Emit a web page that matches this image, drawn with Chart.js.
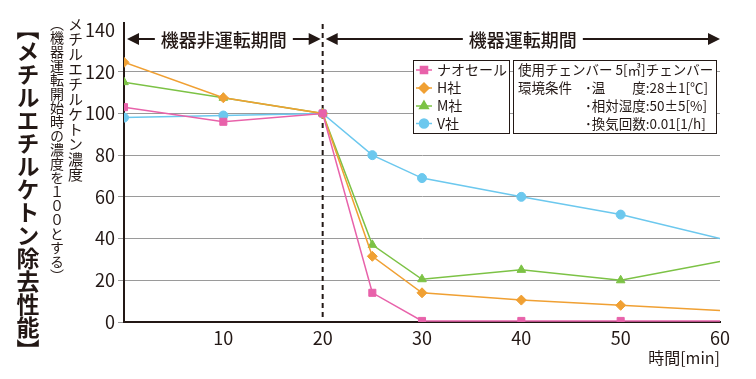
<!DOCTYPE html>
<html lang="ja">
<head>
<meta charset="utf-8">
<script src="https://cdn.jsdelivr.net/npm/chart.js@4/dist/chart.umd.min.js"></script>
<style>
  body { margin: 0; background: #fff; }
  #wrap { position: relative; width: 756px; height: 379px; font-family: "Noto Sans CJK JP", sans-serif; color: #231815; }
  #wrap canvas { position: absolute; left: 0; top: 0; }
  .vt { position: absolute; writing-mode: vertical-rl; white-space: nowrap; line-height: 1; }
  #title { left: 16px; top: 17px; font-size: 23px; font-weight: bold; }
  #ylab1 { left: 68px; top: 17px; font-size: 15px; }
  #ylab2 { left: 50px; top: 17px; font-size: 14px; }
</style>
</head>
<body>
<div id="wrap">
  <canvas id="chart" width="756" height="379"></canvas>
  <div class="vt" id="title">【メチルエチルケトン除去性能】</div>
  <div class="vt" id="ylab1">メチルエチルケトン濃度</div>
  <div class="vt" id="ylab2">（機器運転開始時の濃度を１００とする）</div>
</div>
<script>
// elapsed time [min]
const times = [0, 10, 20, 25, 30, 40, 50, 60];

// concentration, 100 = value at start of operation
const naoseal  = [103, 96, 100, 14, 0.5, 0.5, 0.5, 0.5];
const hCompany = [124.5, 107.5, 100, 31.5, 14, 10.5, 8, 5.5];
const mCompany = [115, 107.5, 100, 37, 20.5, 25, 20, 29];
const vCompany = [98, 99, 100, 80, 69, 60, 51.5, 40];

const seriesNames = ["ナオセール", "H社", "M社", "V社"];
const periodLabels = ["機器非運転期間", "機器運転期間"];
const switchTime = 20;
const conditionLines = [
    ["使用チェンバー 5[㎥]チェンバー", ""],
    ["環境条件", "･温　　度:28±1[℃]"],
    ["", "･相対湿度:50±5[%]"],
    ["", "･換気回数:0.01[1/h]"]
];

const INK = "#231815";
const FONT = "'Noto Sans CJK JP', sans-serif";

function toPoints(values) {
    return values.map((v, i) => ({ x: times[i], y: v }));
}

// no marker on the last point of each line
const radii = (r) => times.map((t, i) => i === times.length - 1 ? 0 : r);

function series(label, values, color, style, r) {
    return {
        label: label,
        data: toPoints(values),
        borderColor: color,
        backgroundColor: color,
        borderWidth: 1.5,
        pointStyle: style,
        pointRadius: radii(r),
        pointHoverRadius: radii(r),
        pointBorderWidth: 1,
        tension: 0
    };
}

function arrowHead(ctx, x, y, dir) {
    ctx.beginPath();
    ctx.moveTo(x, y);
    ctx.lineTo(x - dir * 12, y - 6);
    ctx.lineTo(x - dir * 12, y + 6);
    ctx.closePath();
    ctx.fill();
}

function periodArrow(ctx, x0, x1, y, text) {
    ctx.font = "500 18px " + FONT;
    const w = ctx.measureText(text).width;
    const cx = (x0 + x1) / 2;
    ctx.fillText(text, cx, y + 1);
    ctx.beginPath();
    ctx.moveTo(x0 + 10, y);
    ctx.lineTo(cx - w / 2 - 6, y);
    ctx.moveTo(cx + w / 2 + 6, y);
    ctx.lineTo(x1 - 10, y);
    ctx.stroke();
    arrowHead(ctx, x0, y, -1);
    arrowHead(ctx, x1, y, 1);
}

const periodPlugin = {
    id: "periods",
    beforeDatasetsDraw(chart) {
        const { ctx, chartArea, scales } = chart;
        const xs = scales.x.getPixelForValue(switchTime);
        ctx.save();
        ctx.strokeStyle = INK;
        ctx.lineWidth = 2;
        ctx.setLineDash([5, 4]);
        ctx.beginPath();
        ctx.moveTo(xs, 24);
        ctx.lineTo(xs, chartArea.bottom);
        ctx.stroke();
        ctx.restore();
    },
    afterDraw(chart) {
        const { ctx, chartArea, scales } = chart;
        const xs = scales.x.getPixelForValue(switchTime);
        const y = 39;
        ctx.save();
        ctx.strokeStyle = INK;
        ctx.fillStyle = INK;
        ctx.lineWidth = 2;
        ctx.beginPath();
        ctx.moveTo(chartArea.left, 22);
        ctx.lineTo(chartArea.left, chartArea.top);
        ctx.stroke();
        ctx.textAlign = "center";
        ctx.textBaseline = "middle";
        periodArrow(ctx, chartArea.left + 3, xs - 2, y, periodLabels[0]);
        periodArrow(ctx, xs + 3, chartArea.right, y, periodLabels[1]);
        ctx.restore();
    }
};

const boxPlugin = {
    id: "boxes",
    afterDraw(chart) {
        const { ctx } = chart;
        const rows = [70, 88, 106, 123.5];
        ctx.save();
        ctx.fillStyle = "#fff";
        ctx.strokeStyle = INK;
        ctx.lineWidth = 1;
        ctx.fillRect(413, 60, 97, 74);
        ctx.strokeRect(413.5, 60.5, 96, 73);
        ctx.fillRect(513, 60, 204, 74);
        ctx.strokeRect(513.5, 60.5, 203, 73);

        ctx.textBaseline = "middle";
        ctx.font = "14px " + FONT;
        chart.data.datasets.forEach((ds, i) => {
            const y = rows[i];
            ctx.strokeStyle = ds.borderColor;
            ctx.fillStyle = ds.backgroundColor;
            ctx.lineWidth = 1.5;
            ctx.beginPath();
            ctx.moveTo(416, y);
            ctx.lineTo(432, y);
            ctx.stroke();
            Chart.helpers.drawPoint(ctx, {
                pointStyle: ds.pointStyle,
                radius: ds.pointRadius[0],
                rotation: 0,
                borderWidth: 1
            }, 424, y);
            ctx.fillStyle = INK;
            ctx.fillText(ds.label, 437, y);
        });

        ctx.fillStyle = INK;
        ctx.font = "13.5px " + FONT;
        conditionLines.forEach((line, i) => {
            if (line[0]) ctx.fillText(line[0], 518, rows[i]);
            if (line[1]) ctx.fillText(line[1], 585, rows[i]);
        });
        ctx.restore();
    }
};

new Chart(document.getElementById("chart"), {
    type: "line",
    data: {
        datasets: [
            series(seriesNames[0], naoseal, "#e862aa", "rect", 5),
            series(seriesNames[1], hCompany, "#f0a033", "rectRot", 5),
            series(seriesNames[2], mCompany, "#7cc245", "triangle", 5),
            series(seriesNames[3], vCompany, "#6cc8ee", "circle", 4.5)
        ]
    },
    options: {
        responsive: false,
        animation: false,
        layout: { padding: { top: 30, right: 36, left: 0, bottom: 0 } },
        plugins: {
            legend: { display: false },
            tooltip: { enabled: false }
        },
        scales: {
            x: {
                type: "linear",
                min: 0,
                max: 60,
                afterFit: (s) => { s.height = 57; },
                ticks: {
                    stepSize: 10,
                    padding: 5,
                    color: INK,
                    font: { family: FONT, size: 18 },
                    callback: (v) => v === 0 ? "" : v
                },
                grid: { display: false, drawTicks: false },
                border: { display: true, color: INK, width: 2 },
                title: {
                    display: true,
                    text: "時間[min]",
                    align: "end",
                    color: INK,
                    font: { family: FONT, size: 16 },
                    padding: { top: 0, bottom: 11 }
                }
            },
            y: {
                min: 0,
                max: 140,
                afterFit: (s) => { s.width = 124; },
                ticks: {
                    stepSize: 20,
                    padding: 3,
                    color: INK,
                    font: { family: FONT, size: 18 }
                },
                grid: {
                    color: (c) => c.tick && c.tick.value === 140 ? "rgba(0,0,0,0)" : "#9a9a9a",
                    lineWidth: 1,
                    tickLength: 6
                },
                border: { color: INK, width: 2 }
            }
        }
    },
    plugins: [periodPlugin, boxPlugin]
});
</script>
</body>
</html>
